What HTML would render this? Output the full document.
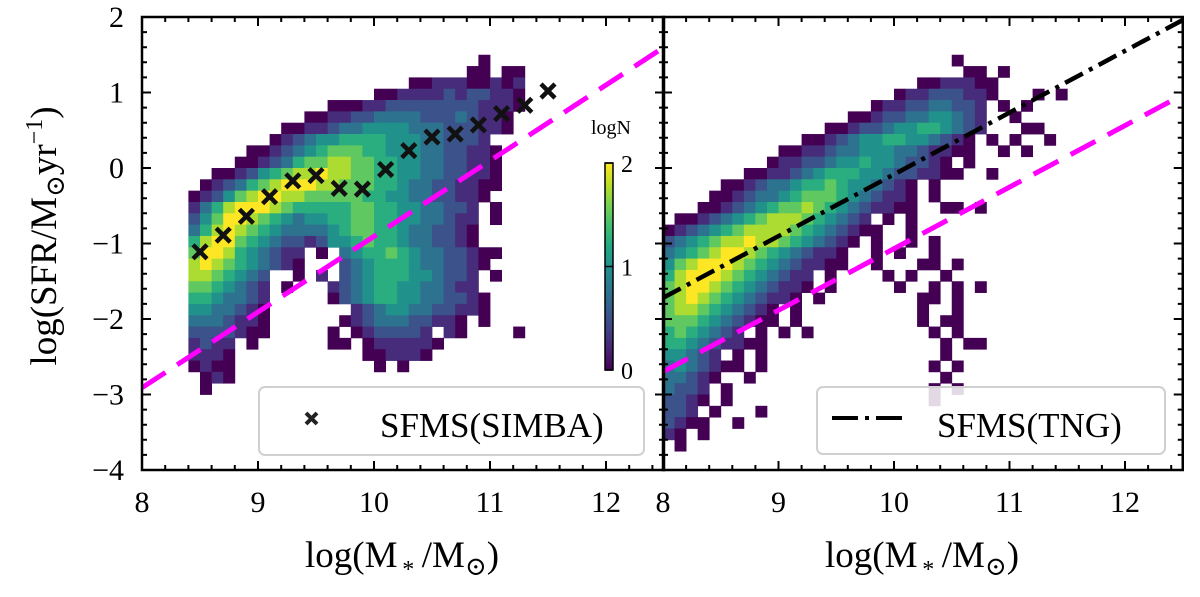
<!DOCTYPE html>
<html><head><meta charset="utf-8"><style>
html,body{margin:0;padding:0;background:#fff;}
svg{display:block;font-family:"Liberation Serif","DejaVu Serif",serif;}
text{font-family:"Liberation Serif","DejaVu Serif",serif;}
</style></head><body>
<svg id="chart" width="1200" height="597" viewBox="0 0 1200 597" xmlns="http://www.w3.org/2000/svg" font-family="Liberation Serif, DejaVu Serif, serif">
<defs>
<linearGradient id="vir" x1="0" y1="1" x2="0" y2="0">
<stop offset="0" stop-color="#440154"/><stop offset="0.1" stop-color="#482475"/><stop offset="0.2" stop-color="#414487"/><stop offset="0.3" stop-color="#355f8d"/><stop offset="0.4" stop-color="#2a788e"/><stop offset="0.5" stop-color="#21918c"/><stop offset="0.6" stop-color="#22a884"/><stop offset="0.7" stop-color="#44bf70"/><stop offset="0.8" stop-color="#7ad151"/><stop offset="0.9" stop-color="#bddf26"/><stop offset="1" stop-color="#fde725"/>
</linearGradient>
<clipPath id="clipL"><rect x="142" y="17" width="521" height="453"/></clipPath>
<clipPath id="clipR"><rect x="663" y="17" width="520" height="453"/></clipPath>
</defs>
<g id="heatL" clip-path="url(#clipL)"></g>
<g id="heatR" clip-path="url(#clipR)"></g>
<g id="lines"></g>
<g id="axes"></g>
<g id="legends"></g>
</svg>
<script>
// ---------- data ----------
const xTicks = [8, 9, 10, 11, 12];
const yTicks = [-4, -3, -2, -1, 0, 1, 2];
const simbaX = [8.5,8.7,8.9,9.1,9.3,9.5,9.7,9.9,10.1,10.3,10.5,10.7,10.9,11.1,11.3,11.5];
const simbaY = [-1.11,-0.89,-0.64,-0.38,-0.17,-0.10,-0.27,-0.28,-0.02,0.23,0.41,0.45,0.57,0.72,0.83,1.02];
const magentaL = {x:[8,12.5], y:[-2.91,1.6]};
const magentaR = {x:[8,12.5], y:[-2.70,0.97]};
const tngLine = {x:[8,12.5], y:[-1.72,1.96]};
const cbTicks = [0,1,2];
// histogram grids: rows from y=1.5 downward (0.15 per row), cols 0.1 per col
const gridLx0 = 8.4;
const gridLRows = [
"                         1",
"                        11 11",
"                   1122211212",
"                1122223233221 ",
"            11122333333332221",
"          112233444433343221",
"        11223445555444333221",
"       1234556666555443332",
"     1123456777665554433221",
"    11234677887766554433221",
"  1123567889887766554433221",
" 12346789998877766544332211",
"12357899887777766554433221",
"2468999876666677665544332 1",
"3579987654556677665544322 1",
"4689876544445677665443321",
"6899765433235567665443321",
"7998654322 1 45667654433211",
"8987654321   3456665443321",
"8876543  1 2 345666554332 1",
"7765432 1   2345665544322",
"6654432     13456655443321",
"5544321       234554433221",
"4443221      12344433221 1",
"3333211     1 1233332 21    1",
"2322 1      11 1222221",
"2221           112221",
"1211            1 1",
" 121",
" 1"
];
const gridRx0 = 8.0;
const gridRRows = [
"                         1",
"                          11 1",
"                      1122211",
"                    122333221   1 1",
"                  1223344332 1 1",
"                112334455432  1",
"              11233455665432   11",
"            112345566554321 1 1  1",
"          11223445554432211  1 1",
"         1223345565543321 1",
"       1122345666554332211  1",
"     11234456676554321 1",
"    112344567776543221 1",
"   1123456778765432211  11 1",
" 11234567888765432 1 1",
"1234567888876543211  1",
"34567889887654321 1  1 1",
"4567899876543221  1 1  1",
"5789998765432211  1   11 1",
"6899987654322 1    1 1  1",
"7899876543221 1     1  1 1 1",
"789876543221 1        11 1",
"7887654321 1          1  1",
"7776543211 1          1 11",
"6765432 1 1 1          1 1",
"665432211               1 11",
"55432 1 1               1",
"4543211 1              1 1",
"44321  1                1",
"4332 1                 1 1",
"3321 1                 1",
"332 1   1",
"3211  1",
"21 1",
" 1"
];
// ---------- scales ----------
const L = {x0:142, k:116}, R = {x0:663, k:115.5};
const sy = y => 17 + (2 - y) * 75.5;
const sx = (p, x) => p.x0 + (x - 8) * p.k;
const NS = "http://www.w3.org/2000/svg";
const FF = '"Liberation Serif","DejaVu Serif",serif';
function mk(tag, attrs, parent){const e=document.createElementNS(NS,tag);for(const k in attrs)e.setAttribute(k,attrs[k]);if(tag==='text')e.setAttribute('font-family',FF);parent.appendChild(e);return e;}
const vstops=["#440154","#482475","#414487","#355f8d","#2a788e","#21918c","#22a884","#44bf70","#7ad151","#bddf26","#fde725"];
function hex(h){return [1,3,5].map(i=>parseInt(h.substr(i,2),16));}
function vir(t){t=Math.max(0,Math.min(1,t));const f=t*10,i=Math.min(9,Math.floor(f)),u=f-i;const a=hex(vstops[i]),b=hex(vstops[i+1]);return "rgb("+a.map((v,j)=>Math.round(v+(b[j]-v)*u)).join(",")+")";}
function drawGrid(rows, x0, p, g){
  rows.forEach((row, j) => {
    const yTop = 1.5 - 0.15*j;
    for (let i=0;i<row.length;i++){
      const c=row[i]; if(c===' ') continue;
      const lv=+c; const xl=x0+0.1*i;
      const r=mk('rect',{x:sx(p,xl).toFixed(2),y:sy(yTop).toFixed(2),width:(0.1*p.k+0.4).toFixed(2),height:(0.15*75.5+0.4).toFixed(2),fill:vir((lv-1)/8)},g);
      
      
    }
  });
}
drawGrid(gridLRows, gridLx0, L, document.getElementById('heatL'));
drawGrid(gridRRows, gridRx0, R, document.getElementById('heatR'));
// ---------- lines ----------
const lg = document.getElementById('lines');
const gl = mk('g',{'clip-path':'url(#clipL)'},lg);
const gr = mk('g',{'clip-path':'url(#clipR)'},lg);
let e;
e=mk('line',{x1:sx(L,magentaL.x[0]),y1:sy(magentaL.y[0]),x2:sx(L,magentaL.x[1]),y2:sy(magentaL.y[1]),stroke:'#ff00ff','stroke-width':5,'stroke-dasharray':'28 14'},gl);


e=mk('line',{x1:sx(R,magentaR.x[0]),y1:sy(magentaR.y[0]),x2:sx(R,magentaR.x[1]),y2:sy(magentaR.y[1]),stroke:'#ff00ff','stroke-width':5,'stroke-dasharray':'28 14'},gr);


e=mk('line',{x1:sx(R,tngLine.x[0]),y1:sy(tngLine.y[0]),x2:sx(R,tngLine.x[1]),y2:sy(tngLine.y[1]),stroke:'#000','stroke-width':4.5,'stroke-dasharray':'20 7 4 7'},gr);


simbaX.forEach((x,i)=>{
  const cx=sx(L,x), cy=sy(simbaY[i]), s=7;
  const p=mk('path',{d:`M${cx-s},${cy-s}L${cx+s},${cy+s}M${cx-s},${cy+s}L${cx+s},${cy-s}`,stroke:'#111','stroke-width':4.5,fill:'none'},lg);
  
  
});
// ---------- axes ----------
const ax = document.getElementById('axes');
function panelAxes(p, showY, name){
  const xl=sx(p,8), xr=sx(p,12.5), yt=sy(2), yb=sy(-4);
  const f=mk('rect',{x:xl,y:yt,width:xr-xl,height:yb-yt,fill:'none',stroke:'#000','stroke-width':2.5},ax);
  
  
  let d='';
  for(let v=8; v<=12.5001; v+=0.2){const X=sx(p,v);const maj=Math.abs(v-Math.round(v))<1e-6;const len=maj?9:5;d+=`M${X},${yb}v${-len}M${X},${yt}v${len}`;}
  for(let v=-4; v<=2.0001; v+=0.2){const Y=sy(v);const maj=Math.abs(v-Math.round(v))<1e-6;const len=maj?9:5;d+=`M${xl},${Y}h${len}M${xr},${Y}h${-len}`;}
  mk('path',{d:d,stroke:'#000','stroke-width':2,fill:'none'},ax);
  xTicks.forEach(v=>{const t=mk('text',{x:sx(p,v),y:512,'font-size':30,'text-anchor':'middle'},ax);t.textContent=v;
    });
  if(showY) yTicks.forEach(v=>{const t=mk('text',{x:124,y:sy(v)+10,'font-size':30,'text-anchor':'end'},ax);t.textContent=(v<0?'\u2212':'')+Math.abs(v);
    });
}
panelAxes(L,true,'left-panel');
panelAxes(R,false,'right-panel');
function xTitle(cx){
  const t=mk('text',{x:cx,y:567,'font-size':37,'text-anchor':'middle'},ax);
  
  
  t.innerHTML='log(M<tspan font-size="24" dy="10">\u2009*</tspan><tspan dy="-10">\u2009/M</tspan><tspan font-size="26" dy="8">\u2299</tspan><tspan dy="-8">)</tspan>';
}
xTitle(402); xTitle(922);
const yt=mk('text',{x:0,y:0,'font-size':37,'text-anchor':'middle',transform:'translate(56,236) rotate(-90)'},ax);


yt.innerHTML='log(SFR/M<tspan font-size="26" dy="8">\u2299</tspan><tspan dy="-8">yr</tspan><tspan font-size="24" dy="-14">\u22121</tspan><tspan dy="14">)</tspan>';
const cb=mk('rect',{x:605,y:163,width:8,height:207,fill:'url(#vir)',stroke:'#000','stroke-width':1.5},ax);


cbTicks.forEach(v=>{const Y=370-v*103.5;mk('line',{x1:605,x2:613,y1:Y,y2:Y,stroke:'#000','stroke-width':1.5},ax);
  const t=mk('text',{x:621,y:Y+9,'font-size':24},ax);t.textContent=v;});
const cbl=mk('text',{x:611,y:134,'font-size':20,'text-anchor':'middle'},ax);cbl.textContent='logN';


// legends
const lgd=document.getElementById('legends');
let b=mk('rect',{x:259,y:387,width:385,height:68,rx:6,fill:'rgba(255,255,255,0.85)',stroke:'#d0d0d0','stroke-width':2},lgd);


mk('path',{d:'M306,413L317,424M306,424L317,413',stroke:'#222','stroke-width':4},lgd);
let t=mk('text',{x:380,y:437,'font-size':35},lgd);t.textContent='SFMS(SIMBA)';

b=mk('rect',{x:817,y:387,width:348,height:67,rx:6,fill:'rgba(255,255,255,0.85)',stroke:'#d0d0d0','stroke-width':2},lgd);


mk('line',{x1:832,x2:907,y1:418,y2:418,stroke:'#000','stroke-width':4,'stroke-dasharray':'26 7 4 7'},lgd);
t=mk('text',{x:937,y:437,'font-size':35},lgd);t.textContent='SFMS(TNG)';

</script>
</body></html>
